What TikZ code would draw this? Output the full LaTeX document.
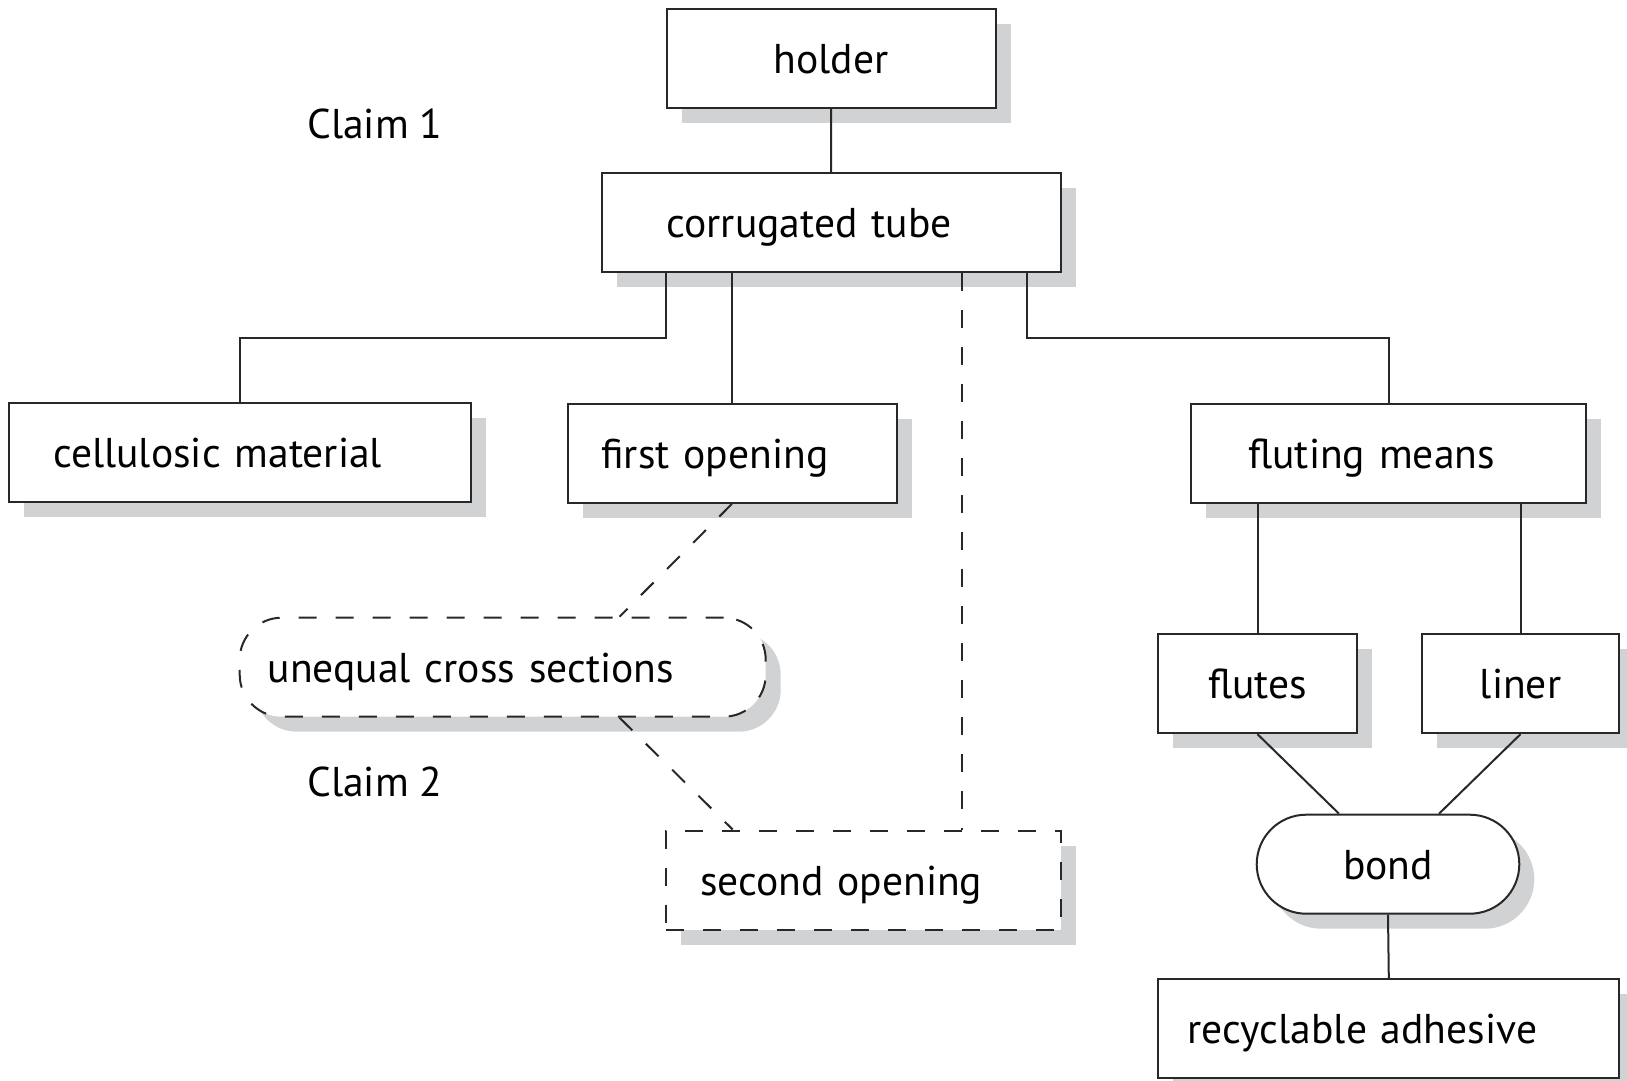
\documentclass[tikz,border=0pt]{standalone}
\usepackage{fontspec}
\setmainfont{PT Sans}
\usetikzlibrary{shadows,shapes.misc}
\definecolor{ln}{RGB}{40,40,40}
\definecolor{sh}{RGB}{209,210,212}
\begin{document}
\begin{tikzpicture}[x=0.5pt,y=-0.5pt,
  txt/.style={font=\fontsize{20.8pt}{24pt}\selectfont, text=black},
  base/.style={txt, draw=ln, line width=1pt, fill=white, minimum height=49.5pt,
    text height=16pt, text depth=1pt, inner ysep=0pt,
    drop shadow={shadow xshift=7.5pt, shadow yshift=-7.5pt, fill=sh, opacity=1}},
  cbox/.style={base, rectangle, align=center, inner xsep=0pt},
  lbox/.style={base, rectangle, align=left},
  dashpat/.style={dash pattern=on 9pt off 9.5pt},
  conn/.style={draw=ln, line width=1pt}
]
\useasboundingbox (0,0) rectangle (1627,1081);

% nodes
\node[cbox, text width=164.5pt] (holder) at (831,58.3) {holder};
\node[lbox, text width=164.5pt, inner xsep=32.5pt] (corr) at (831.2,222.8) {corrugated tube};
\node[lbox, text width=186.7pt, inner xsep=22pt] (cell) at (240,452.8) {cellulosic material};
\node[lbox, text width=130.5pt, inner xsep=17pt] (first) at (732,453.3) {first opening};
\node[lbox, text width=140.25pt, inner xsep=28.5pt] (fluting) at (1388.5,453.3) {fluting means};
\node[lbox, text width=235pt, inner xsep=14pt, rounded corners=21pt, dashpat] (unequal) at (502.7,667.2) {unequal cross sections};
\node[lbox, text width=163.25pt, inner xsep=17pt, dashpat] (second) at (863.3,880) {second opening};
\node[cbox, text width=99.2pt] (flutes) at (1257.5,683.7) {flutes};
\node[cbox, text width=98.8pt] (liner) at (1520.5,683.7) {liner};
\node[base, rounded rectangle, minimum width=131.3pt, inner xsep=0pt] (bond) at (1388,864.2) {bond};
\node[lbox, text width=201pt, inner xsep=14.75pt] (recyc) at (1388.8,1028.7) {recyclable adhesive};

\node[txt, anchor=base west, inner sep=0pt] (claim1) at (307,138.3) {Claim 1};
\node[txt, anchor=base west, inner sep=0pt] (claim2) at (307,796.7) {Claim 2};

% connectors
\draw[conn] (holder.south) -- (corr.north);
\draw[conn] ([xshift=32.8pt]corr.south west) -- ++(0,64.7) -| (cell.north);
\draw[conn] (first.north |- corr.south) -- (first.north);
\draw[conn, dashpat] ([xshift=180.5pt]corr.south west) coordinate (dtop) -- (dtop |- second.north);
\draw[conn] ([xshift=213pt]corr.south west) -- ++(0,64.7) -| (fluting.north);
\draw[conn] (flutes.north |- fluting.south) -- (flutes.north);
\draw[conn] (liner.north |- fluting.south) -- (liner.north);
\draw[conn] (flutes.south) -- ([xshift=-24.5pt]bond.north);
\draw[conn] (liner.south) -- ([xshift=25.5pt]bond.north);
\draw[conn] (bond.south) -- (recyc.north);
\draw[conn, dashpat] (first.south) -- ([xshift=58.4pt]unequal.north);
\draw[conn, dashpat] ([xshift=58.4pt]unequal.south) -- ([xshift=33.8pt]second.north west);
\end{tikzpicture}
\end{document}
